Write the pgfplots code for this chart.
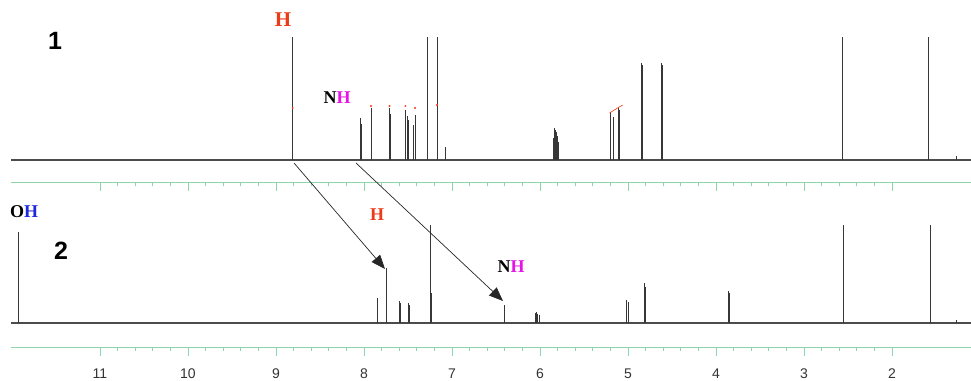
\documentclass[border=0pt]{standalone}
\usepackage{fontspec}
\setmainfont{Liberation Serif}
\newfontfamily\sans{Liberation Sans}
\usepackage{pgfplots}
\pgfplotsset{compat=1.18}
\usetikzlibrary{arrows.meta}
\definecolor{ruler}{RGB}{140,212,172}
\definecolor{hred}{RGB}{235,60,25}
\definecolor{hmag}{RGB}{230,20,230}
\definecolor{hblue}{RGB}{30,40,220}
\definecolor{spec}{RGB}{55,55,55}
\begin{document}
\begin{tikzpicture}[x=1pt,y=1pt]
\useasboundingbox (0,0) rectangle (971,380);
\pgfplotsset{nmr/.style={
  scale only axis, width=960pt, clip=false,
  xmin=1.102, xmax=12.011, x dir=reverse,
  axis x line*=bottom, axis y line=none,
  axis line style={ruler, line width=0.9pt},
  xtick={2,3,...,11}, minor x tick num=4,
  tick align=outside,
  major tick length=9pt, minor tick length=4pt,
  tick style={ruler, line width=0.7pt},
  every axis plot/.append style={spec, line width=0.8pt},
}}
% ---------- spectrum 1 ----------
\begin{axis}[nmr, at={(11pt,198pt)}, anchor=south west,
  height=152pt, ymin=-22, ymax=130, xticklabels={}]
\addplot[no marks, line width=1.1pt, black!70] coordinates {(12.011,0) (1.102,0)};
\addplot[ycomb, no marks] coordinates {
 (8.81,123) (8.04,42) (8.03,36) (7.92,52) (7.91,46) (7.71,52) (7.70,46)
 (7.53,50) (7.51,44) (7.50,40) (7.44,35) (7.42,45) (7.41,40)
 (7.28,123) (7.17,123) (7.07,13)
 (5.845,22) (5.835,32) (5.825,30) (5.815,28) (5.805,24) (5.795,18)
 (5.20,48) (5.17,43) (5.105,52) (5.095,50)
 (4.845,97) (4.835,95) (4.615,97) (4.605,95)
 (2.56,123) (1.59,123) (1.27,4)};
\addplot[only marks, mark=*, mark size=0.5pt, hred] coordinates {
 (8.81,52) (7.92,54) (7.71,54) (7.53,54) (7.42,52) (7.17,55)};
\addplot[hred, line width=0.6pt, no marks] coordinates {(5.21,47) (5.10,53) (5.06,55)};
\end{axis}
% ---------- spectrum 2 ----------
\begin{axis}[nmr, at={(11pt,33pt)}, anchor=south west,
  height=154pt, ymin=-24, ymax=130,
  xticklabel style={font=\sans\fontsize{14}{14}\selectfont, text=black!80, yshift=-9pt},
  /pgf/number format/assume math mode=true]
\addplot[no marks, line width=1.1pt, black!70] coordinates {(12.011,0) (1.102,0)};
\addplot[ycomb, no marks] coordinates {
 (11.93,91) (7.85,25) (7.74,55)
 (7.595,22) (7.585,20) (7.495,20) (7.485,18)
 (7.24,98) (7.23,30) (6.40,18)
 (6.055,10) (6.04,11) (6.025,9) (6.01,8)
 (5.015,23) (5.00,21) (4.99,17) (4.81,40) (4.805,36)
 (3.855,32) (3.845,30) (2.55,98) (1.56,98) (1.27,3)};
\end{axis}
% ---------- annotations ----------
\node[font=\sans\bfseries\fontsize{25}{25}\selectfont] at (55,339) {1};
\node[font=\sans\bfseries\fontsize{25}{25}\selectfont] at (61,129) {2};
\node[font=\bfseries\fontsize{21}{21}\selectfont, text=hred] at (283,360) {H};
\node[font=\bfseries\fontsize{18}{18}\selectfont] at (337,282) {N\textcolor{hmag}{H}};
\node[font=\bfseries\fontsize{18}{18}\selectfont, anchor=west, inner sep=0pt] at (10,168) {O\textcolor{hblue}{H}};
\node[font=\bfseries\fontsize{18}{18}\selectfont, text=hred] at (377,165) {H};
\node[font=\bfseries\fontsize{18}{18}\selectfont] at (511,113) {N\textcolor{hmag}{H}};
\draw[black!85, line width=0.7pt, -{Triangle[length=14pt,width=11pt]}] (294,217) -- (385,111);
\draw[black!85, line width=0.7pt, -{Triangle[length=14pt,width=11pt]}] (356,217) -- (503,79);
\end{tikzpicture}
\end{document}
